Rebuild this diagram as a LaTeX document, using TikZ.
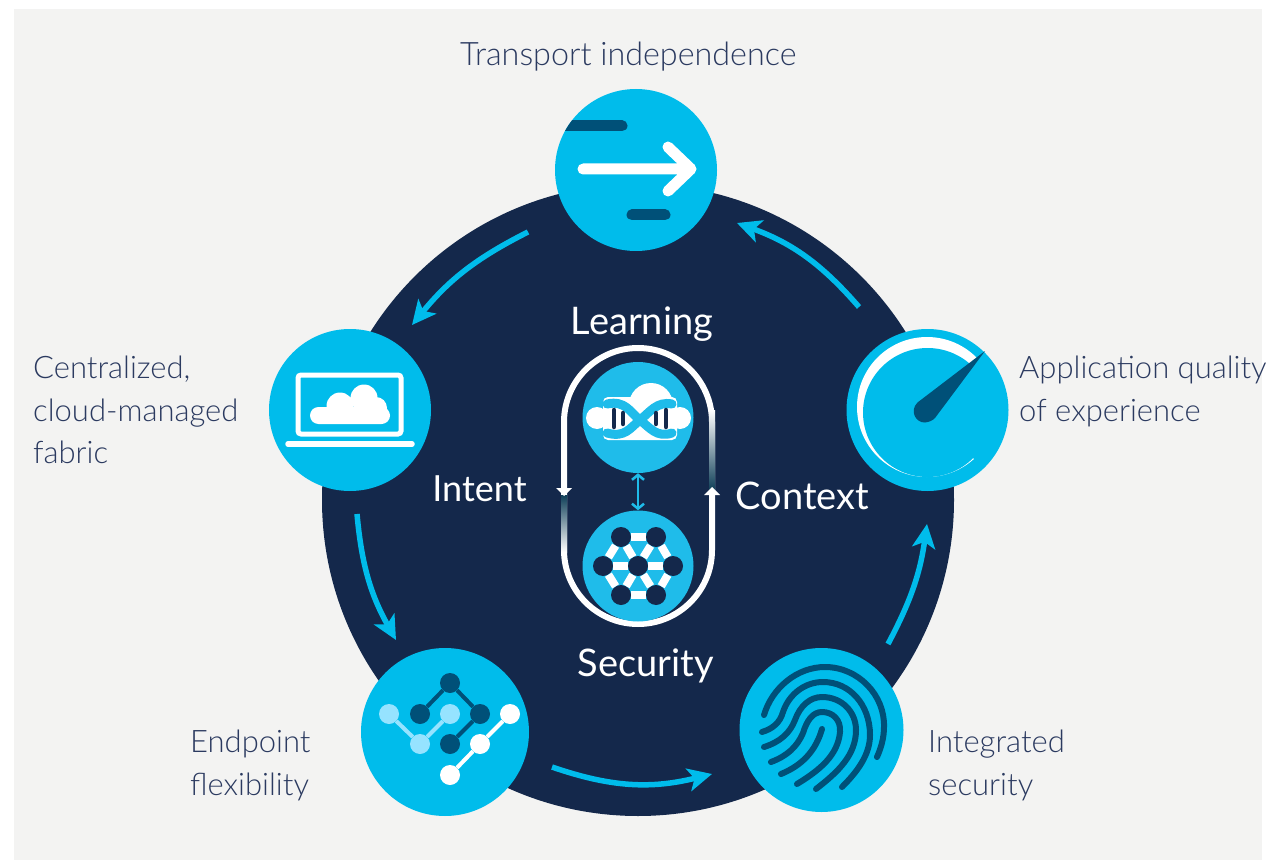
\documentclass[tikz,border=0pt]{standalone}
\usepackage{fontspec}
\setmainfont{Lato}
\newfontfamily\lightfont{Lato Light}
\usetikzlibrary{arrows.meta}
\definecolor{panelgray}{HTML}{F3F3F2}
\definecolor{navy}{HTML}{14284B}
\definecolor{ciscoblue}{HTML}{00BCEB}
\definecolor{innerblue}{HTML}{1FBCEA}
\definecolor{deepblue}{HTML}{005078}
\definecolor{paleblue}{HTML}{96E3FF}
\definecolor{labelblue}{HTML}{2B3A60}
\definecolor{gapteal}{HTML}{0F3F58}
\tikzset{>={Stealth[length=24pt,width=23pt,inset=6pt]}}
\tikzset{
  bigdisc/.style={circle,fill=ciscoblue,inner sep=0pt,minimum size=162pt},
  innerdisc/.style={circle,fill=innerblue,inner sep=0pt,minimum size=111pt},
  flowline/.style={->,draw=ciscoblue,line width=5.5pt},
  sidelabel/.style={anchor=north west,align=left,text=labelblue,
    font=\lightfont\fontsize{31}{42.5}\selectfont,inner sep=0pt},
  midlabel/.style={anchor=base,text=white,
    font=\fontsize{38}{42}\selectfont,inner sep=0pt},
  netdot/.style={circle,fill=navy,inner sep=0pt,minimum size=20pt},
  darkdot/.style={circle,fill=deepblue,inner sep=0pt,minimum size=20pt},
  palesdot/.style={circle,fill=paleblue,inner sep=0pt,minimum size=20pt},
  whitedot/.style={circle,fill=white,inner sep=0pt,minimum size=20pt},
  ridge/.style={draw=deepblue,line width=6pt,line cap=round,line join=round},
  whitebar/.style={draw=white,line width=8pt},
}

\begin{document}
\begin{tikzpicture}[x=1pt,y=-1pt]

  \useasboundingbox (0,0) rectangle (1280,861);
  \fill[panelgray] (14,9) rectangle (1262,860);

  \node[circle,fill=navy,inner sep=0pt,minimum size=632pt] (hub) at (638,500) {};

  \node[bigdisc] (transport) at (636,170) {};
  \node[bigdisc] (fabric) at (350,410) {};
  \node[bigdisc] (quality) at (927.5,410) {};
  \node[bigdisc,minimum size=168pt] (endpoint) at (445,732) {};
  \node[bigdisc,minimum size=164pt] (security) at (821.5,730) {};

  % arrows round the hub
  \coordinate (qualityout) at (859,307);
  \coordinate (transportin) at (737,223);
  \coordinate (transportout) at (528,232);
  \coordinate (fabricin) at (412,325);
  \coordinate (fabricout) at (357,514);
  \coordinate (endpointin) at (396,640);
  \coordinate (endpointout) at (552,767);
  \coordinate (securityin) at (712,774);
  \coordinate (securityout) at (888,644);
  \coordinate (qualityin) at (927,524);
  \draw[flowline] (qualityout) to[bend right=14.5] (transportin);
  \draw[flowline] (transportout) to[bend right=12] (fabricin);
  \draw[flowline] (fabricout) to[bend right=12] (endpointin);
  \draw[flowline] (endpointout) to[bend right=16.5] (securityin);
  \draw[flowline] (securityout) to[bend right=10] (qualityin);

  % transport icon
  \begin{scope}
    \clip (636,170) circle (81);
    \draw[deepblue,line width=11pt,line cap=round] (550,126)--(622,126);
  \end{scope}
  \draw[deepblue,line width=11pt,line cap=round] (632,215)--(665,215);
  \draw[white,line width=11pt,line cap=round,line join=round]
    (583,169)--(690,169) (668,147)--(691,169)--(668,191);

  % laptop icon
  \draw[white,line width=5pt,rounded corners=3pt] (298,375) rectangle (401,434);
  \draw[white,line width=5.5pt,line cap=round] (288,444)--(412,444);
  \fill[white,rounded corners=8.5pt] (310,407) rectangle (390,424);
  \fill[white] (340,406) circle (13.5) (364,398) circle (13.5) (376,408) circle (11);

  % gauge icon
  \begin{scope}
    \clip (927,410)--(985,351)--(960,320)--(840,320)--(840,500)--(1010,497)--cycle;
    \fill[white] (927,407) circle (70);
  \end{scope}
  \fill[ciscoblue] (927.5,412.5) circle (64.5);
  \fill[deepblue] (985,351)--(917.5,402.5)
    .. controls (909,411) and (916,423) .. (925,422.5)
    .. controls (930,422) and (933,420) .. (935,418)--cycle;

  % endpoint icon
  \node[darkdot] (da) at (450,683) {};
  \node[darkdot] (db) at (420,714) {};
  \node[darkdot] (dc) at (480,714) {};
  \node[darkdot] (dd) at (450,744) {};
  \draw[deepblue,line width=4pt] (db)--(da)--(dc)--(dd);
  \node[palesdot] (pa) at (389,714) {};
  \node[palesdot] (pb) at (420,744) {};
  \node[palesdot] (pc) at (450,714) {};
  \draw[paleblue,line width=4pt] (pa)--(pb)--(pc);
  \node[whitedot] (wa) at (450,775) {};
  \node[whitedot] (wb) at (480,744) {};
  \node[whitedot] (wc) at (510,714) {};
  \draw[white,line width=4pt] (wa)--(wb)--(wc);

  % fingerprint icon
  \draw[ridge] (764,715) .. controls (772,688) and (797,667) .. (825,667)
    .. controls (858,667) and (885,695) .. (884,727)
    .. controls (884,738) and (881,748) .. (877,757);
  \draw[ridge] (762,732) .. controls (772,729) and (780,723) .. (783,712)
    .. controls (789,694) and (805,682) .. (823,682)
    .. controls (850,682) and (870,705) .. (870,735)
    .. controls (870,755) and (857,772) .. (842,787);
  \draw[ridge] (764,747) .. controls (780,742) and (790,733) .. (795,720)
    .. controls (800,706) and (810,697) .. (822,697)
    .. controls (842,697) and (856,712) .. (856,730)
    .. controls (856,755) and (838,772) .. (816,789);
  \draw[ridge] (771,762) .. controls (787,756) and (797,747) .. (803,733)
    .. controls (807,720) and (813,712) .. (822,712)
    .. controls (833,712) and (841,720) .. (840,732)
    .. controls (838,755) and (820,770) .. (797,784);
  \draw[ridge] (781,774) .. controls (803,765) and (816,750) .. (822,729);

  % loop in the middle
  \draw[white,line width=6pt,rounded corners=74pt] (564,348) rectangle (712,624);
  \shade[top color=gapteal,bottom color=white] (561,495) rectangle (567,552);
  \shade[top color=white,bottom color=gapteal] (709,410) rectangle (715,490);
  \fill[white] (556,488)--(572,488)--(564,496)--cycle;
  \fill[white] (704,495)--(720,495)--(712,487)--cycle;

  \node[innerdisc] (learn) at (638,417.5) {};
  \node[innerdisc] (guard) at (638,566) {};
  \draw[{Straight Barb[length=5pt,width=12pt]}-{Straight Barb[length=5pt,width=12pt]},
    innerblue,line width=2.5pt] (learn)--(guard);

  % cloud with the helix
  \fill[white] (651,405) circle (22) (597,418) circle (11) (680,418) circle (11);
  \fill[white,rounded corners=5pt] (603,397) rectangle (677,440);
  \draw[innerblue,line width=9pt,line cap=round]
    (607,404) .. controls (625,400) and (630,412) .. (640,420)
    .. controls (650,428) and (657,438) .. (672,433);
  \draw[innerblue,line width=9pt,line cap=round]
    (607,433) .. controls (625,438) and (630,428) .. (640,420)
    .. controls (650,412) and (657,401) .. (672,404);
  \draw[navy,line width=4.5pt,line cap=round]
    (614,410)--(614,427) (623,413)--(623,424) (656,413)--(656,424) (666,410)--(666,427);

  % graph in the lower disc
  \node[netdot] (na) at (621,537) {};
  \node[netdot] (nb) at (656,537) {};
  \node[netdot] (nc) at (603,566) {};
  \node[netdot] (nd) at (638,566) {};
  \node[netdot] (ne) at (673,566) {};
  \node[netdot] (nf) at (621,595) {};
  \node[netdot] (ng) at (656,595) {};
  \foreach \p/\q in {na/nb,nb/ne,ne/ng,ng/nf,nf/nc,nc/na,nd/na,nd/nb,nd/nc,nd/ne,nd/nf,nd/ng}
    \draw[whitebar] (\p)--(\q);

  \node[sidelabel,font=\lightfont\fontsize{32.3}{42.5}\selectfont] (transportlabel) at (460,42) {Transport independence};
  \node[sidelabel] (fabriclabel) at (33,356) {Centralized,\\cloud-managed\\fabric};
  \node[sidelabel] (qualitylabel) at (1019,356) {Application quality\\of experience};
  \node[sidelabel] (endpointlabel) at (190,730) {Endpoint\\flexibility};
  \node[sidelabel] (securitylabel) at (928,730) {Integrated\\security};

  \node[midlabel] (learnlabel) at (642,334) {Learning};
  \node[midlabel,font=\fontsize{36}{42}\selectfont] (intentlabel) at (479.5,501) {Intent};
  \node[midlabel] (contextlabel) at (802.5,509) {Context};
  \node[midlabel] (guardlabel) at (645.5,676) {Security};

\end{tikzpicture}
\end{document}
